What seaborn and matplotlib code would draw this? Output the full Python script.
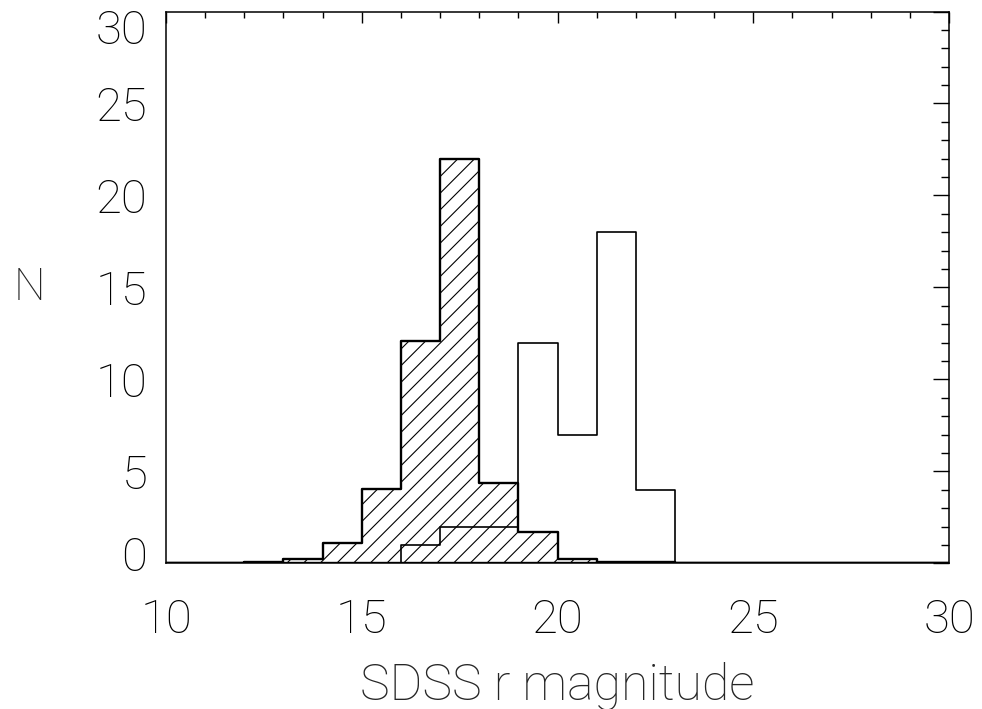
import numpy as np
import pandas as pd
import matplotlib
matplotlib.use("Agg")
import matplotlib.pyplot as plt
import matplotlib.transforms as mtransforms
from matplotlib.ticker import MultipleLocator
import seaborn as sns

# ---- data ----
bin_edges = list(range(10, 31))
bin_centers = [e + 0.5 for e in range(10, 30)]
hatched_counts = [0, 0, 0.05, 0.22, 1.12, 4.04, 12.1, 22.0, 4.38, 1.68,
                  0.22, 0.05, 0.05, 0.03, 0.03, 0.03, 0, 0, 0, 0]
open_counts = [0, 0, 0, 0, 0, 0, 1, 2, 2, 12,
               7, 18, 4, 0, 0, 0, 0, 0, 0, 0]
x_ticks = [10, 15, 20, 25, 30]
y_ticks = [0, 5, 10, 15, 20, 25, 30]
x_label = "SDSS r magnitude"
y_label = "N"

sns.set_theme(style="white")
plt.rcParams['font.family'] = ['Roboto', 'DejaVu Sans']
plt.rcParams['font.weight'] = 'light'
plt.rcParams['hatch.linewidth'] = 0.8
plt.rcParams['hatch.color'] = 'black'

fig = plt.figure(figsize=(9.82, 7.09), dpi=100)
ax = fig.add_axes([166 / 982, 1 - 563.3 / 709, (949 - 166) / 982, (563.3 - 11.5) / 709])

df = pd.DataFrame({"mag": bin_centers, "hatched": hatched_counts, "open": open_counts})

sns.histplot(data=df, x="mag", weights="hatched", bins=bin_edges, element="step",
             fill=True, color="black", linewidth=1.7, ax=ax)
poly = ax.collections[-1]
poly.set_alpha(None)
poly.set_facecolor("none")
poly.set_edgecolor("black")
poly.set_hatch("//")

sns.histplot(data=df, x="mag", weights="open", bins=bin_edges, element="step",
             fill=False, color="black", linewidth=1.2, ax=ax)

ax.set_xlim(10, 30)
ax.set_ylim(0, 30)
ax.set_xticks(x_ticks)
ax.set_yticks(y_ticks)
ax.xaxis.set_minor_locator(MultipleLocator(1))
ax.yaxis.set_minor_locator(MultipleLocator(1))

fs = 34
wt = 100
ax.tick_params(which='both', direction='in', top=True, right=True,
               colors='black', width=1.0, labelsize=fs)
ax.tick_params(axis='x', which='major', length=7.9, pad=25)
ax.tick_params(axis='x', which='minor', length=4.0)
ax.tick_params(axis='y', which='major', length=11.2, pad=13.5)
ax.tick_params(axis='y', which='minor', length=5.8)
for lab in ax.get_xticklabels() + ax.get_yticklabels():
    lab.set_fontweight(wt)

for sp in ax.spines.values():
    sp.set_visible(True)
    sp.set_color('black')
    sp.set_linewidth(1.1)

ax.set_xlabel(x_label, fontsize=fs + 2, fontweight=wt)
ax.set_ylabel(y_label, fontsize=fs - 2, fontweight=wt, rotation=0)
ax.xaxis.label.set_va('center')
ax.yaxis.label.set_va('center')
ax.yaxis.label.set_ha('center')
ax.xaxis.set_label_coords(0.5, -0.222)
ax.yaxis.set_label_coords(-0.174, 0.5)

fig.canvas.draw()
for t in ax.yaxis.get_major_ticks():
    loc = t.get_loc()
    if np.isclose(loc, 0):
        t.label1.set_transform(t.label1.get_transform() +
                               mtransforms.ScaledTranslation(0, 10 / 100, fig.dpi_scale_trans))
    elif np.isclose(loc, 30):
        t.label1.set_transform(t.label1.get_transform() +
                               mtransforms.ScaledTranslation(0, -15 / 100, fig.dpi_scale_trans))

fig.savefig("out.png", dpi=100, facecolor="white")
